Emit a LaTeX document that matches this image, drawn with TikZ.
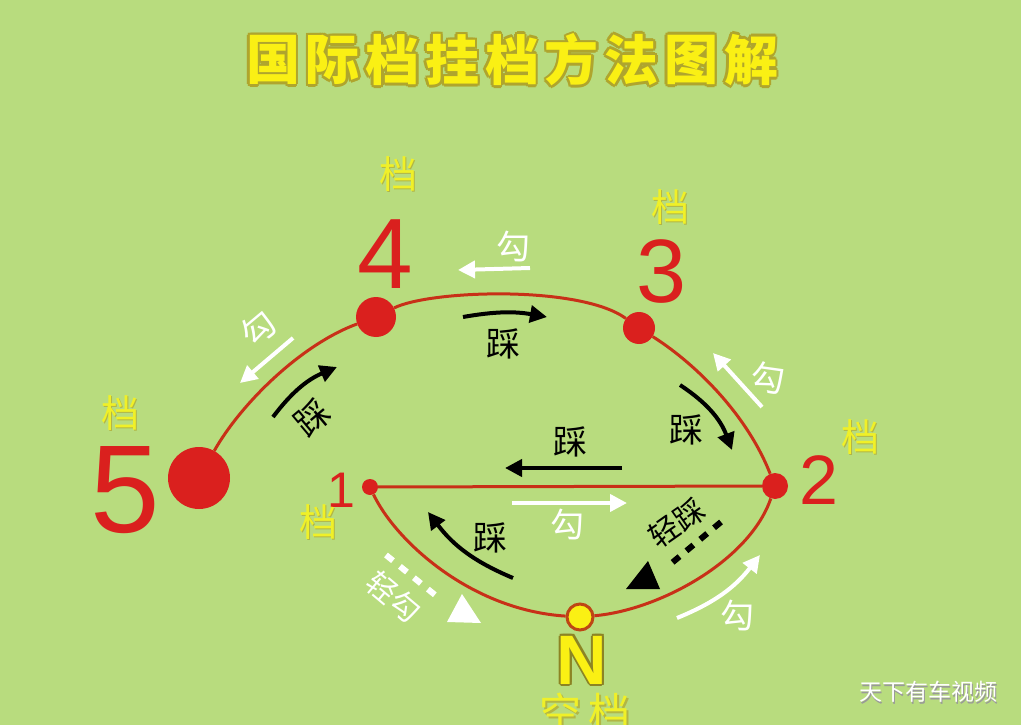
\documentclass[tikz,border=0pt]{standalone}
\usepackage{fontspec}
\setmainfont{Liberation Sans}
\newfontfamily\cjk{Noto Sans CJK SC}
\usetikzlibrary{arrows.meta}
\definecolor{bgg}{RGB}{184,220,126}
\definecolor{gred}{RGB}{218,32,30}
\definecolor{lred}{RGB}{200,48,24}
\definecolor{ttlyel}{RGB}{250,240,20}
\definecolor{ttlglow}{RGB}{175,165,45}
\definecolor{dangyel}{RGB}{240,240,40}
\definecolor{nedge}{RGB}{190,70,20}
\tikzset{
  gearline/.style={draw=lred,line width=3pt},
  gdot/.style={circle,fill=gred,inner sep=0},
  blk/.style={line width=4pt,black,-{Triangle[length=17pt,width=17pt]}},
  wht/.style={line width=4pt,white,-{Triangle[length=17pt,width=17pt]}},
  lbl/.style={inner sep=0,font=\cjk\fontsize{34}{34}\selectfont},
  dang/.style={inner sep=0,text=dangyel,font=\cjk\fontsize{38}{38}\selectfont},
  num/.style={inner sep=0,text=gred},
  ttl/.style={inner sep=0,font=\cjk\bfseries\fontsize{54}{54}\selectfont},
}
\begin{document}
\begin{tikzpicture}[x=1pt,y=-1pt]
\fill[bgg] (0,0) rectangle (1021,725);
\useasboundingbox (0,0) rectangle (1021,725);
% title
\foreach \c [count=\i from 0] in {国,际,档,挂,档,方,法,图,解}{
  \foreach \a in {0,45,...,315}{\node[ttl,text=ttlglow] at ([shift={(\a:2.6)}]273+\i*59.75,60) {\c};}
  \node[ttl,text=ttlyel] (t\i) at (273+\i*59.75,60) {\c};
}
% gear nodes
\node[gdot,minimum size=62pt] (g5) at (199,478) {};
\node[gdot,minimum size=40pt] (g4) at (376,317) {};
\node[gdot,minimum size=32pt] (g3) at (639,328) {};
\node[gdot,minimum size=26pt] (g2) at (775,486) {};
\node[gdot,minimum size=16pt] (g1) at (370,487) {};
\node[circle,fill=ttlyel,draw=nedge,line width=3pt,minimum size=26pt,inner sep=0] (gN) at (580,617) {};
% gate lines
\draw[gearline] (g5) .. controls (240,405) and (300,345) .. (g4);
\draw[gearline] (g4) .. controls (430,290) and (580,285) .. (g3);
\draw[gearline] (g3) .. controls (690,360) and (745,410) .. (g2);
\draw[gearline] (g1) -- (g2);
\draw[gearline] (g1) .. controls (395,540) and (470,610) .. (gN);
\draw[gearline] (gN) .. controls (660,610) and (750,560) .. (g2);
% numbers
\node[num,font=\fontsize{125}{125}\selectfont] (n5) at (125,490) {5};
\node[num,font=\fontsize{100}{100}\selectfont] (n4) at (385,254) {4};
\node[num,font=\fontsize{90}{90}\selectfont] (n3) at (662,272) {3};
\node[num,font=\fontsize{70}{70}\selectfont] (n2) at (819,480) {2};
\node[num,font=\fontsize{50}{50}\selectfont] (n1) at (341,490) {1};
\foreach \a in {0,45,...,315}{\node[inner sep=0,text=ttlglow!80!black,font=\bfseries\fontsize{70}{70}\selectfont] at ([shift={(\a:2)}]582,660) {N};}
\node[inner sep=0,text=ttlyel,font=\bfseries\fontsize{70}{70}\selectfont] (nN) at (582,660) {N};
% dang labels
\foreach \p/\n in {{120,413}/d5,{398,174}/d4,{670,207}/d3,{860,437}/d2,{318,522}/d1}{
  \node[dang,text=ttlglow!70!bgg] at ([shift={(1.5,1.5)}]\p) {档};
  \node[dang] (\n) at (\p) {档};
}
\node[dang,text=ttlglow!70!bgg,font=\cjk\fontsize{42}{42}\selectfont] at (587,714) {空\,档};
\node[dang,font=\cjk\fontsize{42}{42}\selectfont] (dN) at (585,712) {空\,档};
% arrows 5-4
\coordinate (a1s) at (293,338); \coordinate (a1e) at (240,383);
\draw[wht] (a1s) -- (a1e);
\node[lbl,text=white,rotate=40] (l1) at (258,329) {勾};
\coordinate (a2s) at (273,417); \coordinate (a2e) at (337,367);
\draw[blk] (a2s) to[bend left=15] (a2e);
\node[lbl,rotate=40] (l2) at (312,418) {踩};
% arrows 4-3
\coordinate (a3s) at (530,268); \coordinate (a3e) at (458,270);
\draw[wht] (a3s) -- (a3e);
\node[lbl,text=white] (l3) at (513,246) {勾};
\coordinate (a4s) at (463,317); \coordinate (a4e) at (547,317);
\draw[blk] (a4s) to[bend left=10] (a4e);
\node[lbl] (l4) at (503,344) {踩};
% arrows 3-2
\coordinate (a5s) at (762,407); \coordinate (a5e) at (713,353);
\draw[wht] (a5s) -- (a5e);
\node[lbl,text=white,rotate=-8] (l5) at (768,378) {勾};
\coordinate (a6s) at (680,385); \coordinate (a6e) at (732,450);
\draw[blk] (a6s) to[bend left=18] (a6e);
\node[lbl] (l6) at (686,430) {踩};
% arrows 1-2
\coordinate (a7s) at (622,468); \coordinate (a7e) at (505,468);
\draw[blk] (a7s) -- (a7e);
\node[lbl] (l7) at (570,442) {踩};
\coordinate (a8s) at (512,503); \coordinate (a8e) at (627,503);
\draw[wht] (a8s) -- (a8e);
\node[lbl,text=white] (l8) at (567,524) {勾};
% arrows 1-N
\coordinate (a9s) at (513,578); \coordinate (a9e) at (428,512);
\draw[blk] (a9s) to[bend left=15] (a9e);
\node[lbl] (l9) at (490,538) {踩};
\coordinate (a10s) at (386,555); \coordinate (a10e) at (440,599);
\draw[white,line width=6pt,dash pattern=on 9pt off 9pt] (a10s) -- (a10e);
\fill[white] (447,622) -- (481,623) -- (462,594) -- cycle;
\node[lbl,text=white,rotate=-40,font=\cjk\fontsize{30}{30}\selectfont] (l10) at (394,597) {轻勾};
% arrows N-2
\coordinate (a11s) at (721,522); \coordinate (a11e) at (667,567);
\draw[black,line width=6pt,dash pattern=on 9pt off 9pt] (a11s) -- (a11e);
\fill[black] (626,589) -- (660,589) -- (648,561) -- cycle;
\node[lbl,rotate=35,font=\cjk\fontsize{30}{30}\selectfont] (l11) at (677,523) {轻踩};
\coordinate (a12s) at (677,618); \coordinate (a12e) at (760,555);
\draw[wht] (a12s) to[bend right=15] (a12e);
\node[lbl,text=white] (l12) at (737,615) {勾};
% watermark
\node[inner sep=0,text=black!40,font=\cjk\fontsize{23}{23}\selectfont] at (929.5,693.5) {天下有车视频};
\node[inner sep=0,text=white,font=\cjk\fontsize{23}{23}\selectfont] (wm) at (928,692) {天下有车视频};
\end{tikzpicture}
\end{document}
